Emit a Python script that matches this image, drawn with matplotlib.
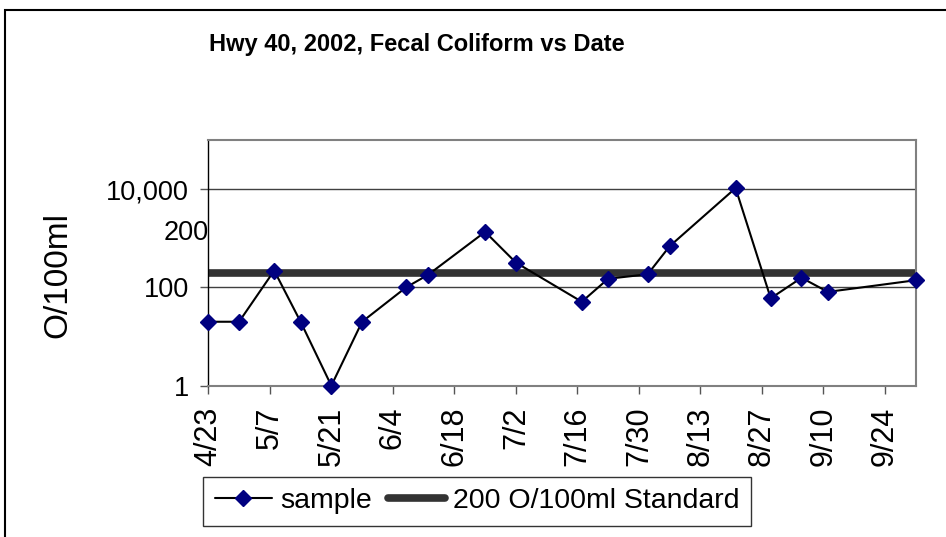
import matplotlib
matplotlib.use("Agg")
import matplotlib.pyplot as plt
import matplotlib.transforms as mtransforms
from matplotlib.patches import Rectangle
import pandas as pd

# Sample dates (2002) and fecal coliform counts (O/100ml)
sample_dates = ['4/23', '4/30', '5/8', '5/14', '5/21', '5/28', '6/7', '6/12', '6/25', '7/2',
                '7/17', '7/23', '8/1', '8/6', '8/21', '8/29', '9/5', '9/11', '10/1']
sample_values = [20, 20, 220, 20, 1, 20, 100, 180, 1350, 320,
                 51, 150, 185, 690, 10500, 60, 157, 81, 140]

standard_value = 200
x_range = ['4/23', '10/1']
x_tick_labels = ['4/23', '5/7', '5/21', '6/4', '6/18', '7/2', '7/16', '7/30',
                 '8/13', '8/27', '9/10', '9/24']
y_tick_values = [1, 100, 10000]
y_tick_labels = ['1', '100', '10,000']
y_limits = [1, 100000]
stray_label = '200'
stray_label_y = 1260


def to_date(s):
    return pd.Timestamp('2002/' + s)


plt.rcParams['font.family'] = ['Liberation Sans', 'DejaVu Sans']

fig = plt.figure(figsize=(9.46, 5.37), dpi=100)
ax = fig.add_axes([0.2202, 0.2818, 0.7478, 0.4575])

dates = [to_date(d) for d in sample_dates]

ax.axhline(standard_value, color='#333333', linewidth=5.5, zorder=2,
           label='200 O/100ml Standard')
ax.plot(dates, sample_values, color='black', linewidth=1.5, marker='D',
        markersize=8, markerfacecolor='#000080', markeredgecolor='#000080',
        zorder=3, clip_on=False, label='sample')

ax.set_yscale('log')
ax.set_ylim(*y_limits)
ax.set_xlim(to_date(x_range[0]), to_date(x_range[1]))

ax.set_yticks(y_tick_values)
ax.set_yticklabels(y_tick_labels, fontsize=19.5)
ax.yaxis.set_minor_locator(matplotlib.ticker.NullLocator())
ax.set_xticks([to_date(t) for t in x_tick_labels])
ax.set_xticklabels(x_tick_labels, rotation=90, fontsize=22)

ax.tick_params(axis='y', length=6, width=1, color='#555555', pad=8)
ax.tick_params(axis='x', length=6, width=1, color='#555555', pad=9)

for v in y_tick_values[1:]:
    ax.axhline(v, color='#404040', linewidth=1, zorder=1)

for side in ['top', 'right', 'bottom']:
    ax.spines[side].set_color('#808080')
    ax.spines[side].set_linewidth(1.5)
ax.spines['left'].set_color('black')
ax.spines['left'].set_linewidth(1)

trans = mtransforms.blended_transform_factory(ax.transAxes, ax.transData)
ax.text(0.001, stray_label_y, stray_label, transform=trans, ha='right', va='center',
        fontsize=19.5)

fig.text(0.4403, 0.918, 'Hwy 40, 2002, Fecal Coliform vs Date', ha='center', va='center',
         fontsize=17, fontweight='bold')
fig.text(0.0613, 0.487, 'O/100ml', rotation=90, ha='center', va='center', fontsize=24)

handles, labels = ax.get_legend_handles_labels()
leg = fig.legend(handles[::-1], labels[::-1], loc='lower left',
                 bbox_to_anchor=(0.2149, 0.021), ncol=2, fontsize=20.5,
                 frameon=True, fancybox=False, handlelength=2.0, handletextpad=0.3,
                 columnspacing=0.55, borderpad=0.4, borderaxespad=0)
leg.get_frame().set_edgecolor('black')
leg.get_frame().set_linewidth(1)
for line in leg.get_lines():
    line.set_solid_capstyle('round')

# chart area border (cropped at right and bottom)
fig.patches.append(Rectangle((5 / 946, -0.2), 1.2, 0.2 + 1 - 10 / 537,
                             transform=fig.transFigure, fill=False,
                             edgecolor='black', linewidth=1.5))

fig.savefig('out.png', dpi=100)
